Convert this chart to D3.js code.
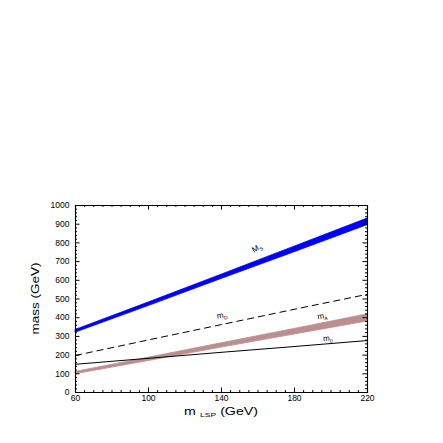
<!DOCTYPE html>
<html>
<head>
<meta charset="utf-8">
<script src="https://cdn.jsdelivr.net/npm/d3@7"></script>
<style>
  body { margin: 0; background: #fff; }
  text { font-family: "Liberation Sans", Arial, sans-serif; fill: #000; }
</style>
</head>
<body>
<div id="chart"></div>
<script>
// data
const mLsp = [60, 100, 140, 180, 220];
const msLow = [320, 462, 607, 750, 895];
const msHigh = [334, 481, 630, 780, 930];
const mdDashed = [195, 278, 360, 442, 522];
const maLow = [98, 168, 240, 310, 380];
const maHigh = [110, 186, 263, 340, 418];
const m0Solid = [148, 180, 212, 243, 275];
const xTicks = [60, 100, 140, 180, 220];
const yTicks = [0, 100, 200, 300, 400, 500, 600, 700, 800, 900, 1000];

const W = 443, H = 443;
const margin = { top: 205, right: 76, bottom: 51, left: 75 };
const width = W - margin.left - margin.right;
const height = H - margin.top - margin.bottom;

const svg = d3.select("#chart").append("svg")
    .attr("width", W).attr("height", H);
const g = svg.append("g")
    .attr("transform", `translate(${margin.left},${margin.top})`);

const x = d3.scaleLinear().domain([60, 220]).range([0, width]);
const y = d3.scaleLinear().domain([0, 1000]).range([height, 0]);

const band = (lo, hi) => d3.area()
    .x((d, i) => x(mLsp[i]))
    .y0((d, i) => y(lo[i]))
    .y1((d, i) => y(hi[i]))(mLsp);
const line = vals => d3.line()
    .x((d, i) => x(mLsp[i]))
    .y((d, i) => y(vals[i]))(mLsp);

g.append("path").attr("d", band(msLow, msHigh)).attr("fill", "#0000ff")
    .attr("stroke", "#0000ff").attr("stroke-width", 0.8);
g.append("path").attr("d", band(maLow, maHigh)).attr("fill", "#bc8f8f")
    .attr("stroke", "#bc8f8f").attr("stroke-width", 0.8);
g.append("path").attr("d", line(mdDashed)).attr("fill", "none")
    .attr("stroke", "#000").attr("stroke-width", 1).attr("stroke-dasharray", "7,4");
g.append("path").attr("d", line(m0Solid)).attr("fill", "none")
    .attr("stroke", "#000").attr("stroke-width", 1);

// axes: ticks pointing inward on all four sides
const xMinor = d3.range(60, 221, 5).filter(v => !xTicks.includes(v));
const yMinor = d3.range(0, 1001, 20).filter(v => !yTicks.includes(v));

function ax(axisFn, scale, ticks, size, labels) {
    return axisFn(scale).tickValues(ticks).tickSize(size)
        .tickFormat(labels ? d3.format("d") : "");
}
const axes = [
    [d3.axisBottom, x, `translate(0,${height})`, xTicks, xMinor, true],
    [d3.axisTop, x, "translate(0,0)", xTicks, xMinor, false],
    [d3.axisLeft, y, "translate(0,0)", yTicks, yMinor, true],
    [d3.axisRight, y, `translate(${width},0)`, yTicks, yMinor, false]
];
axes.forEach(([fn, sc, tr, major, minor, lab]) => {
    const gm = g.append("g").attr("transform", tr).call(ax(fn, sc, minor, -2, false));
    gm.select(".domain").remove();
    const ga = g.append("g").attr("transform", tr).call(ax(fn, sc, major, -4.5, lab));
    ga.select(".domain").attr("stroke-width", 1.1);
    ga.selectAll("text").attr("font-size", 8.5)
        .attr("font-family", "'DejaVu Sans', sans-serif").attr("fill", "#000");
    if (fn === d3.axisLeft) ga.selectAll("text").attr("dx", -2.5);
});

// axis titles
const xt = svg.append("text").attr("x", margin.left + width / 2).attr("y", 415)
    .attr("text-anchor", "middle").attr("font-size", 10)
    .attr("textLength", 74).attr("lengthAdjust", "spacingAndGlyphs");
xt.append("tspan").text("m");
xt.append("tspan").attr("font-size", 6).attr("dx", 3).attr("dy", 2).text("LSP");
xt.append("tspan").attr("dy", -2).text(" (GeV)");

svg.append("text").attr("transform", `translate(39,${margin.top + height / 2}) rotate(-90)`)
    .attr("text-anchor", "middle").attr("font-size", 10)
    .attr("textLength", 72).attr("lengthAdjust", "spacingAndGlyphs").text("mass (GeV)");

// curve labels
function label(px, py, main, sub, rot) {
    const t = g.append("text")
        .attr("transform", `translate(${x(px)},${y(py)}) rotate(${rot})`)
        .attr("font-size", 8);
    t.append("tspan").text(main);
    t.append("tspan").attr("font-size", 5).attr("dy", 2).text(sub);
}
label(158, 745, "M", "S", -30);
label(138, 393, "m", "D", -8);
label(193, 389, "m", "A", -8);
label(196, 272, "m", "0", -4);
</script>
</body>
</html>
